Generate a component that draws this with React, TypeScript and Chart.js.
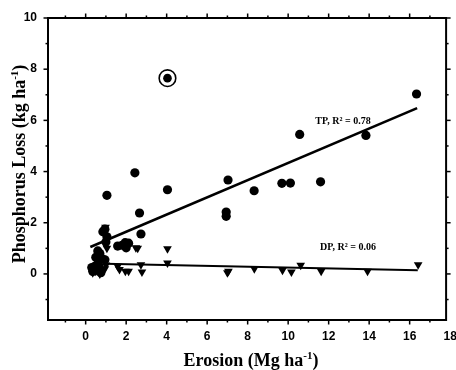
import React, { useEffect, useRef } from "react";
import { Chart, registerables } from "chart.js";

Chart.register(...registerables);

// Total phosphorus (circles)
const tpX = [0.3, 0.35, 0.45, 0.55, 0.6, 0.7, 0.75, 0.5, 0.6, 0.7, 0.8, 0.95, 0.85, 0.95, 1.05, 1.0, 1.05, 1.58, 1.8, 1.95, 2.12, 2.0, 2.43, 2.66, 2.73, 4.04, 6.94, 6.94, 7.03, 8.32, 9.69, 10.11, 10.57, 11.6, 13.84, 16.34];
const tpY = [0.25, 0.1, 0.3, 0.15, 0.4, 0.2, 0.05, 0.65, 0.9, 0.8, 0.6, 0.55, 1.65, 1.75, 1.45, 1.25, 3.07, 1.09, 1.12, 1.22, 1.2, 1.02, 3.95, 2.38, 1.56, 3.29, 2.42, 2.25, 3.67, 3.25, 3.54, 3.55, 5.45, 3.6, 5.41, 7.03];

// Dissolved phosphorus (triangles)
const dpX = [0.35, 0.5, 0.7, 0.85, 0.95, 1.0, 0.7, 0.98, 1.05, 1.58, 1.67, 1.96, 2.12, 2.48, 2.57, 2.73, 2.78, 4.04, 4.04, 7.0, 7.05, 8.33, 9.72, 10.16, 10.62, 11.63, 13.92, 16.42];
const dpY = [0.05, 0.1, 0.0, 0.1, 0.2, 0.35, 0.3, 1.82, 1.0, 0.3, 0.17, 0.1, 0.1, 1.02, 1.0, 0.36, 0.08, 0.98, 0.43, 0.05, 0.1, 0.2, 0.14, 0.08, 0.34, 0.1, 0.1, 0.36];

// Circled outlier
const outlierX = [4.04];
const outlierY = [7.65];

// Regression line endpoints
const tpFitX = [0.23, 16.37];
const tpFitY = [1.05, 6.48];
const dpFitX = [0.93, 16.4];
const dpFitY = [0.4, 0.14];

const xTickLabels = [0, 2, 4, 6, 8, 10, 12, 14, 16, 18];
const xMinorTicks = [-1, 1, 3, 5, 7, 9, 11, 13, 15, 17];
const yTickLabels = [0, 2, 4, 6, 8, 10];
const yMinorTicks = [-1, 1, 3, 5, 7, 9];

const X_MIN = -1.86;
const X_MAX = 17.8;
const Y_MIN = -1.8;
const Y_MAX = 10;

const zip = (xs: number[], ys: number[]) => xs.map((x, i) => ({ x, y: ys[i] }));

type Part = { t: string; sup?: boolean };

function drawRich(ctx: CanvasRenderingContext2D, parts: Part[], cx: number, cy: number, size: number, supSize: number) {
  const main = `bold ${size}px "Liberation Serif", "Times New Roman", serif`;
  const sup = `bold ${supSize}px "Liberation Serif", "Times New Roman", serif`;
  let total = 0;
  const widths = parts.map((p) => {
    ctx.font = p.sup ? sup : main;
    const w = ctx.measureText(p.t).width;
    total += w;
    return w;
  });
  let x = cx - total / 2;
  ctx.textAlign = "left";
  ctx.textBaseline = "alphabetic";
  parts.forEach((p, i) => {
    ctx.font = p.sup ? sup : main;
    ctx.fillText(p.t, x, p.sup ? cy - size * 0.38 : cy);
    x += widths[i];
  });
}

const framePlugin = {
  id: "frame",
  afterDraw(chart: any) {
    const { ctx, chartArea: a, scales } = chart;
    const xs = scales.x;
    const ys = scales.y;
    ctx.save();
    ctx.strokeStyle = "#000";
    ctx.fillStyle = "#000";
    ctx.lineWidth = 2;
    ctx.strokeRect(a.left, a.top, a.right - a.left, a.bottom - a.top);

    ctx.lineWidth = 1.5;
    const line = (x1: number, y1: number, x2: number, y2: number) => {
      ctx.beginPath();
      ctx.moveTo(x1, y1);
      ctx.lineTo(x2, y2);
      ctx.stroke();
    };
    const inX = (v: number) => v >= X_MIN && v <= X_MAX;
    const inY = (v: number) => v >= Y_MIN && v <= Y_MAX;
    xTickLabels.filter(inX).forEach((v) => {
      const px = xs.getPixelForValue(v);
      line(px, a.bottom, px, a.bottom + 4.5);
      line(px, a.top, px, a.top - 4.5);
    });
    xMinorTicks.filter(inX).forEach((v) => {
      const px = xs.getPixelForValue(v);
      line(px, a.bottom, px, a.bottom + 2.5);
      line(px, a.top, px, a.top - 2.5);
    });
    yTickLabels.filter(inY).forEach((v) => {
      const py = ys.getPixelForValue(v);
      line(a.left, py, a.left - 4.5, py);
      line(a.right, py, a.right + 4.5, py);
    });
    yMinorTicks.filter(inY).forEach((v) => {
      const py = ys.getPixelForValue(v);
      line(a.left, py, a.left - 2.5, py);
      line(a.right, py, a.right + 2.5, py);
    });

    ctx.font = 'bold 12px "Liberation Sans", Arial, sans-serif';
    ctx.textAlign = "center";
    ctx.textBaseline = "middle";
    xTickLabels.forEach((v) => {
      ctx.fillText(String(v), xs.getPixelForValue(v), a.bottom + 17);
    });
    ctx.textAlign = "right";
    yTickLabels.forEach((v) => {
      ctx.fillText(String(v), a.left - 11, ys.getPixelForValue(v));
    });

    // axis titles
    drawRich(ctx, [{ t: "Erosion (Mg ha" }, { t: "-1", sup: true }, { t: ")" }], 251, 366, 18, 11);
    ctx.save();
    ctx.translate(25, 164);
    ctx.rotate(-Math.PI / 2);
    drawRich(ctx, [{ t: "Phosphorus Loss (kg ha" }, { t: "-1", sup: true }, { t: ")" }], 0, 0, 18, 11);
    ctx.restore();

    // annotations
    ctx.font = 'bold 10px "Liberation Serif", "Times New Roman", serif';
    ctx.textAlign = "center";
    ctx.textBaseline = "middle";
    ctx.fillText("TP, R² = 0.78", 343, 121);
    ctx.fillText("DP, R² = 0.06", 348, 247);
    ctx.restore();
  },
};

export default function App() {
  const ref = useRef<HTMLCanvasElement | null>(null);
  useEffect(() => {
    if (!ref.current) return;
    const chart = new Chart(ref.current, {
      type: "scatter",
      data: {
        datasets: [
          {
            label: "TP",
            data: zip(tpX, tpY),
            pointStyle: "circle",
            pointRadius: 4.6,
            backgroundColor: "#000",
            borderColor: "#000",
            borderWidth: 0,
            order: 1,
          },
          {
            label: "Outlier",
            data: zip(outlierX, outlierY),
            pointStyle: "circle",
            pointRadius: 4.3,
            backgroundColor: "#000",
            borderColor: "#000",
            borderWidth: 0,
            order: 1,
          },
          {
            label: "Outlier ring",
            data: zip(outlierX, outlierY),
            pointStyle: "circle",
            pointRadius: 8.3,
            backgroundColor: "#fff",
            borderColor: "#000",
            borderWidth: 1.6,
            order: 5,
          },
          {
            label: "DP",
            data: zip(dpX, dpY),
            pointStyle: "triangle",
            rotation: 180,
            pointRadius: 5,
            backgroundColor: "#000",
            borderColor: "#000",
            borderWidth: 0,
            order: 2,
          },
          {
            label: "TP fit",
            data: zip(tpFitX, tpFitY),
            showLine: true,
            pointRadius: 0,
            borderColor: "#000",
            borderWidth: 2.6,
            order: 3,
          },
          {
            label: "DP fit",
            data: zip(dpFitX, dpFitY),
            showLine: true,
            pointRadius: 0,
            borderColor: "#000",
            borderWidth: 2,
            order: 3,
          },
        ],
      },
      options: {
        animation: false,
        responsive: false,
        layout: { padding: { left: 48, right: 7, top: 18, bottom: 50 } },
        plugins: { legend: { display: false }, tooltip: { enabled: false } },
        scales: {
          x: { type: "linear", display: false, min: X_MIN, max: X_MAX },
          y: { type: "linear", display: false, min: Y_MIN, max: Y_MAX },
        },
      },
      plugins: [framePlugin],
    });
    return () => chart.destroy();
  }, []);
  return (
    <div style={{ position: "fixed", left: 0, top: 0, width: 456, height: 370, background: "#fff" }}>
      <canvas ref={ref} width={456} height={370} style={{ display: "block" }} />
    </div>
  );
}
